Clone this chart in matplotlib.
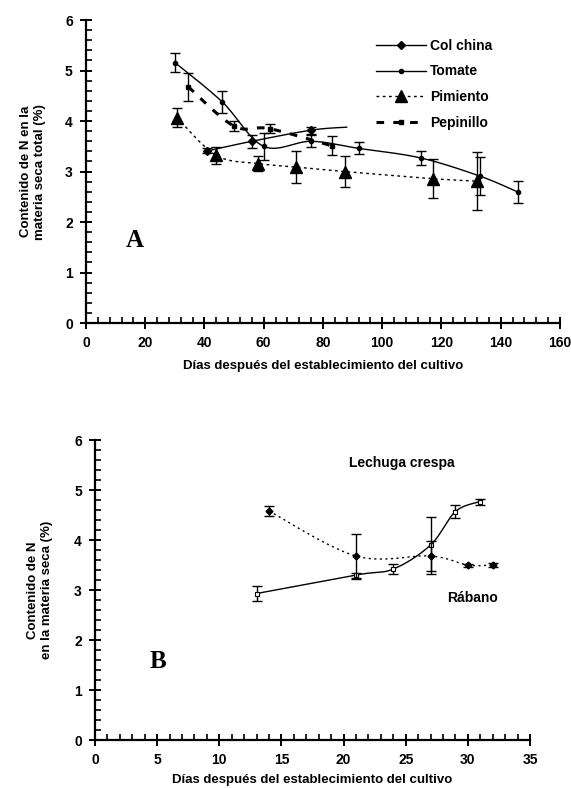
import numpy as np
import matplotlib
matplotlib.use('Agg')
import matplotlib.pyplot as plt
from matplotlib.ticker import MultipleLocator

plt.rcParams['font.family'] = ['Liberation Sans', 'DejaVu Sans']
plt.rcParams['font.weight'] = 'bold'

# Panel A: N content vs days
col_x = [41, 56, 76, 88]
col_y = [3.41, 3.60, 3.82, 3.88]
col_e = [0.05, 0.13, 0.07, 0.0]

tom_x = [30, 46, 60, 76, 92, 113, 133, 146]
tom_y = [5.16, 4.38, 3.50, 3.60, 3.46, 3.27, 2.91, 2.59]
tom_e = [0.19, 0.22, 0.27, 0.12, 0.12, 0.14, 0.38, 0.22]

pim_x = [30.7, 44, 58, 71, 87.5, 117, 132]
pim_y = [4.07, 3.32, 3.16, 3.09, 3.00, 2.86, 2.81]
pim_e = [0.19, 0.17, 0.15, 0.32, 0.30, 0.39, 0.58]

pep_x = [34.5, 50, 62, 83]
pep_y = [4.68, 3.90, 3.85, 3.51]
pep_e = [0.28, 0.10, 0.09, 0.19]

# Panel B
lec_x = [13, 21, 24, 27, 29, 31]
lec_y = [2.93, 3.30, 3.42, 3.90, 4.57, 4.77]
lec_e = [0.15, 0.05, 0.10, 0.57, 0.13, 0.06]

rab_x = [14, 21, 27, 30, 32]
rab_y = [4.58, 3.68, 3.68, 3.50, 3.50]
rab_e = [0.10, 0.45, 0.30, 0.03, 0.04]

xlabel = 'Días después del establecimiento del cultivo'


def smooth(x, y, n=30):
    # Excel-like smoothed line (cubic Bezier through points)
    x = np.asarray(x, float)
    y = np.asarray(y, float)
    p = np.column_stack([x, y])
    p = np.vstack([p[0], p, p[-1]])
    out = []
    t = np.linspace(0, 1, n)[:, None]
    for i in range(1, len(p) - 2):
        p0, p1, p2, p3 = p[i - 1], p[i], p[i + 1], p[i + 2]
        c1 = p1 + (p2 - p0) / 6
        c2 = p2 - (p3 - p1) / 6
        seg = ((1 - t) ** 3) * p1 + 3 * ((1 - t) ** 2) * t * c1 + 3 * (1 - t) * t ** 2 * c2 + t ** 3 * p2
        out.append(seg)
    s = np.vstack(out)
    return s[:, 0], s[:, 1]


def style_axes(ax, xmaj, xmin, xmax):
    for s in ['top', 'right']:
        ax.spines[s].set_visible(False)
    for s in ['left', 'bottom']:
        ax.spines[s].set_linewidth(1.6)
    ax.set_xlim(0, xmax)
    ax.set_ylim(0, 6)
    ax.xaxis.set_major_locator(MultipleLocator(xmaj))
    ax.xaxis.set_minor_locator(MultipleLocator(xmin))
    ax.yaxis.set_major_locator(MultipleLocator(1))
    ax.yaxis.set_minor_locator(MultipleLocator(0.2))
    ax.tick_params(which='major', direction='inout', length=9, width=1.4, labelsize=10, pad=5)
    ax.tick_params(which='minor', direction='in', length=4, width=1.2)
    for lab in ax.get_xticklabels() + ax.get_yticklabels():
        lab.set_fontweight('bold')


fig = plt.figure(figsize=(5.71, 7.88), dpi=100)

# ---------- A ----------
ax = fig.add_axes([0.1506, 0.590, 0.830, 0.3845])
style_axes(ax, 20, 4, 160)
ekw = dict(fmt='none', ecolor='black', elinewidth=1.0, capsize=3.5, capthick=1.0)

sx, sy = smooth(col_x, col_y)
ax.plot(sx, sy, '-', color='black', lw=1.0)
ax.plot(col_x[:3], col_y[:3], 'D', color='black', ms=4.5, ls='none')
ax.errorbar(col_x[:3], col_y[:3], yerr=col_e[:3], **ekw)

sx, sy = smooth(tom_x, tom_y)
ax.plot(sx, sy, '-', color='black', lw=1.0)
ax.plot(tom_x, tom_y, 'o', color='black', ms=3, ls='none')
ax.errorbar(tom_x, tom_y, yerr=tom_e, **ekw)

sx, sy = smooth(pim_x, pim_y)
ax.plot(sx, sy, color='black', lw=1.0, ls=(0, (2, 2.5)))
ax.plot(pim_x, pim_y, '^', color='black', ms=8, ls='none')
ax.errorbar(pim_x, pim_y, yerr=pim_e, **ekw)

sx, sy = smooth(pep_x, pep_y)
ax.plot(sx, sy, color='black', lw=2.2, ls=(0, (2.5, 3)))
ax.plot(pep_x, pep_y, 's', color='black', ms=3.5, ls='none')
ax.errorbar(pep_x, pep_y, yerr=pep_e, **ekw)

h1, = ax.plot([], [], '-D', color='black', lw=1.0, ms=4.5)
h2, = ax.plot([], [], '-o', color='black', lw=1.0, ms=3)
h3, = ax.plot([], [], '^', color='black', lw=1.0, ms=8, ls=(0, (2, 2.5)))
h4, = ax.plot([], [], 's', color='black', lw=2.2, ms=3.5, ls=(0, (2.5, 3)))
ax.legend([h1, h2, h3, h4], ['Col china', 'Tomate', 'Pimiento', 'Pepinillo'],
          loc='upper left', bbox_to_anchor=(0.585, 0.98), frameon=False,
          handlelength=3.6, handletextpad=0.3, labelspacing=0.85,
          prop={'weight': 'bold', 'size': 10})

ax.text(13.5, 1.5, 'A', fontsize=18, fontweight='bold', family='Liberation Serif')
ax.set_ylabel('Contenido de N en la\nmateria seca total (%)', fontsize=9.5, fontweight='bold', labelpad=14)
ax.set_xlabel(xlabel, fontsize=9.5, fontweight='bold', labelpad=7)

# ---------- B ----------
bx = fig.add_axes([0.1664, 0.0609, 0.7618, 0.3807])
style_axes(bx, 5, 1, 35)

sx, sy = smooth(lec_x, lec_y)
bx.plot(sx, sy, '-', color='black', lw=1.0)
bx.errorbar(lec_x, lec_y, yerr=lec_e, **ekw)
bx.plot(lec_x, lec_y, 's', mfc='white', mec='black', mew=0.8, ms=3.5, ls='none')

sx, sy = smooth(rab_x, rab_y)
bx.plot(sx, sy, color='black', lw=1.0, ls=(0, (1.5, 2.5)))
bx.errorbar(rab_x, rab_y, yerr=rab_e, **ekw)
bx.plot(rab_x, rab_y, 'D', color='black', ms=3.5, ls='none')

bx.text(24.7, 5.55, 'Lechuga crespa', fontsize=10, fontweight='bold', ha='center', va='center')
bx.text(30.4, 2.85, 'Rábano', fontsize=10, fontweight='bold', ha='center', va='center')
bx.text(4.4, 1.45, 'B', fontsize=18, fontweight='bold', family='Liberation Serif')
bx.set_ylabel('Contenido de N\nen la materia seca (%)', fontsize=9.5, fontweight='bold', labelpad=15)
bx.set_xlabel(xlabel, fontsize=9.5, fontweight='bold', labelpad=5)

fig.savefig('out.png', dpi=100)
